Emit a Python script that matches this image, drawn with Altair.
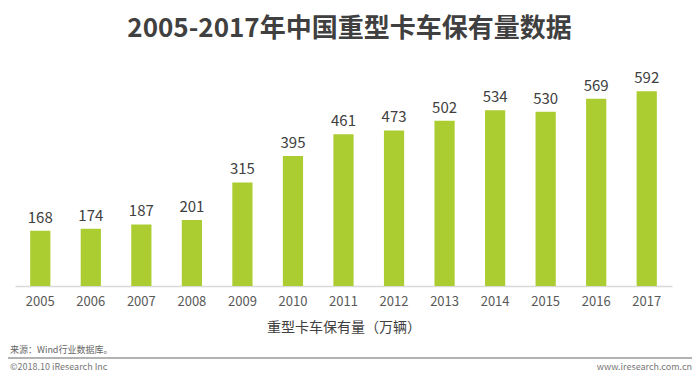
import altair as alt
import pandas as pd

years = ["2005", "2006", "2007", "2008", "2009", "2010", "2011",
         "2012", "2013", "2014", "2015", "2016", "2017"]
values = [168, 174, 187, 201, 315, 395, 461, 473, 502, 534, 530, 569, 592]

title_text = "2005-2017年中国重型卡车保有量数据"
axis_title = "重型卡车保有量（万辆）"
source_text = "来源：Wind行业数据库。"
footer_left = "©2018.10 iResearch Inc"
footer_right = "www.iresearch.com.cn"

df = pd.DataFrame({"year": years, "value": values})
FONT = "Noto Sans CJK SC"

base = alt.Chart(df).encode(
    x=alt.X("year:N", sort=years,
            scale=alt.Scale(paddingInner=0.6, paddingOuter=0.3),
            axis=alt.Axis(title=axis_title, labelAngle=0, labelFontSize=13,
                          labelColor="#595959", labelFont=FONT, labelPadding=9,
                          ticks=False, domainColor="#d9d9d9", domainWidth=1.5,
                          titleFont=FONT, titleFontSize=14, titleFontWeight="normal",
                          titleColor="#404040", titlePadding=12)),
    y=alt.Y("value:Q", scale=alt.Scale(domain=[0, 687], nice=False),
            axis=None),
)

bars = base.mark_bar(color="#abcd32")
labels = base.mark_text(dy=-13, fontSize=15, color="#404040", font=FONT).encode(
    text="value:Q")

src = alt.Chart(pd.DataFrame({"t": [source_text]})).mark_text(
    align="left", baseline="middle", fontSize=9, color="#666666", font=FONT
).encode(x=alt.value(-5), y=alt.value(290), text="t:N")

rule = alt.Chart(pd.DataFrame({"a": [0]})).mark_rule(
    color="#9a9a9a", strokeWidth=1.5
).encode(x=alt.value(-7), x2=alt.value(677), y=alt.value(298))

fl = alt.Chart(pd.DataFrame({"t": [footer_left]})).mark_text(
    align="left", baseline="middle", fontSize=9, color="#777777", font=FONT
).encode(x=alt.value(-5), y=alt.value(307), text="t:N")

fr = alt.Chart(pd.DataFrame({"t": [footer_right]})).mark_text(
    align="right", baseline="middle", fontSize=9, color="#777777", font=FONT
).encode(x=alt.value(677), y=alt.value(307), text="t:N")

chart = alt.layer(bars, labels, src, rule, fl, fr).properties(
    width=657, height=226,
    autosize=alt.AutoSizeParams(type="none"),
    padding={"left": 7, "top": 52, "right": 20, "bottom": 87},
    title=alt.TitleParams(title_text, font=FONT, fontSize=26, fontWeight="bold",
                          color="#404040", anchor="middle", dx=6, offset=18),
).configure_view(stroke=None)

chart.save("out.html", embed_options={"renderer": "svg", "actions": False})
